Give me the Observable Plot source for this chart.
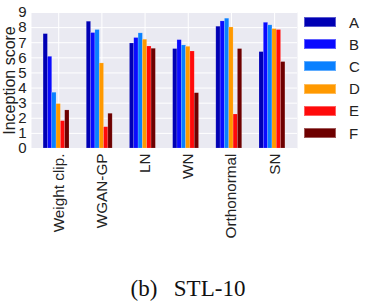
<!DOCTYPE html>
<html>
<head>
<meta charset="utf-8">
<script src="https://cdn.jsdelivr.net/npm/d3@7"></script>
<script src="https://cdn.jsdelivr.net/npm/@observablehq/plot@0.6"></script>
<style>
  body { margin: 0; background: #fff; font-family: "Liberation Sans", Arial, sans-serif; }
  #wrap { position: relative; width: 369px; height: 307px; }
  #legend { position: absolute; left: 304px; top: 11px; }
  .row { position: absolute; left: 0; height: 22px; display: flex; align-items: center; white-space: nowrap; }
  .sw { width: 32px; height: 10px; box-sizing: border-box; }
  .lab { margin-left: 13px; font-size: 15px; color: #222; }
  #caption { position: absolute; left: 130.5px; top: 277px; line-height: 23px;
             font-family: "Liberation Serif", "Times New Roman", serif; font-size: 23px; color: #111; white-space: nowrap; }
  #caption .name { margin-left: 16.5px; }
</style>
</head>
<body>
<div id="wrap">
  <div id="chart"></div>
  <div id="legend"></div>
  <div id="caption"><span>(b)</span><span class="name">STL-10</span></div>
</div>
<script>
const methods = ["Weight clip.", "WGAN-GP", "LN", "WN", "Orthonormal", "SN"];
const series = ["A", "B", "C", "D", "E", "F"];
const A = [7.57, 8.39, 6.95, 6.58, 8.06, 6.38];
const B = [6.07, 7.64, 7.31, 7.17, 8.41, 8.32];
const C = [3.69, 7.84, 7.62, 6.82, 8.59, 8.15];
const D = [2.94, 5.63, 7.20, 6.73, 8.01, 7.90];
const E = [1.81, 1.41, 6.75, 6.42, 2.25, 7.84];
const F = [2.52, 2.30, 6.60, 3.66, 6.58, 5.72];
const colors = ["#0000B4", "#0A0AFF", "#0A80FF", "#FF9900", "#FF0A0A", "#6E0000"];
const yTicks = [0, 1, 2, 3, 4, 5, 6, 7, 8, 9];

const valuesBySeries = [A, B, C, D, E, F];
const rows = [];
series.forEach((s, si) => {
  methods.forEach((m, gi) => {
    rows.push({ method: m, gi, series: s, si, value: valuesBySeries[si][gi] });
  });
});

const barW = 0.1;
const chart = Plot.plot({
  width: 369,
  height: 258,
  marginLeft: 31,
  marginRight: 72,
  marginTop: 12,
  marginBottom: 110,
  style: { fontFamily: "'Liberation Sans', Arial, sans-serif", color: "#222", background: "transparent" },
  x: { domain: [-0.63, 5.53], axis: null },
  y: { domain: [0, 9], axis: null },
  color: { domain: series, range: colors },
  marks: [
    Plot.frame({ fill: "#EAEAF2", stroke: null }),
    Plot.gridY(yTicks, { stroke: "white", strokeOpacity: 1, strokeWidth: 1 }),
    Plot.gridX(d3.range(methods.length), { stroke: "white", strokeOpacity: 1, strokeWidth: 1 }),
    Plot.rectY(rows, {
      x1: d => d.gi - 0.35 + d.si * barW,
      x2: d => d.gi - 0.35 + (d.si + 1) * barW,
      y1: 0,
      y2: "value",
      fill: "series",
      stroke: "white",
      strokeOpacity: 0.25,
      strokeWidth: 0.6
    }),
    Plot.axisY(yTicks, {
      tickSize: 0, tickPadding: 5, fontSize: 15, tickFormat: d => String(d),
      label: "Inception score", labelAnchor: "center", labelArrow: "none", labelOffset: 28
    }),
    Plot.axisX(d3.range(methods.length), {
      tickSize: 0, tickPadding: 5, tickRotate: -90, fontSize: 15.3, label: null,
      tickFormat: i => methods[i]
    })
  ]
});
d3.select(chart).selectAll("g[aria-label='y-axis label'] text").attr("font-size", 16);
document.getElementById("chart").appendChild(chart);

const legend = document.getElementById("legend");
series.forEach((s, i) => {
  const row = document.createElement("div");
  row.className = "row";
  row.style.top = (i * 22.2) + "px";
  const sw = document.createElement("div");
  sw.className = "sw";
  sw.style.background = colors[i];
  sw.style.border = "1px solid rgba(255,255,255,0.35)";
  const lab = document.createElement("span");
  lab.className = "lab";
  lab.textContent = s;
  row.appendChild(sw);
  row.appendChild(lab);
  legend.appendChild(row);
});
</script>
</body>
</html>
